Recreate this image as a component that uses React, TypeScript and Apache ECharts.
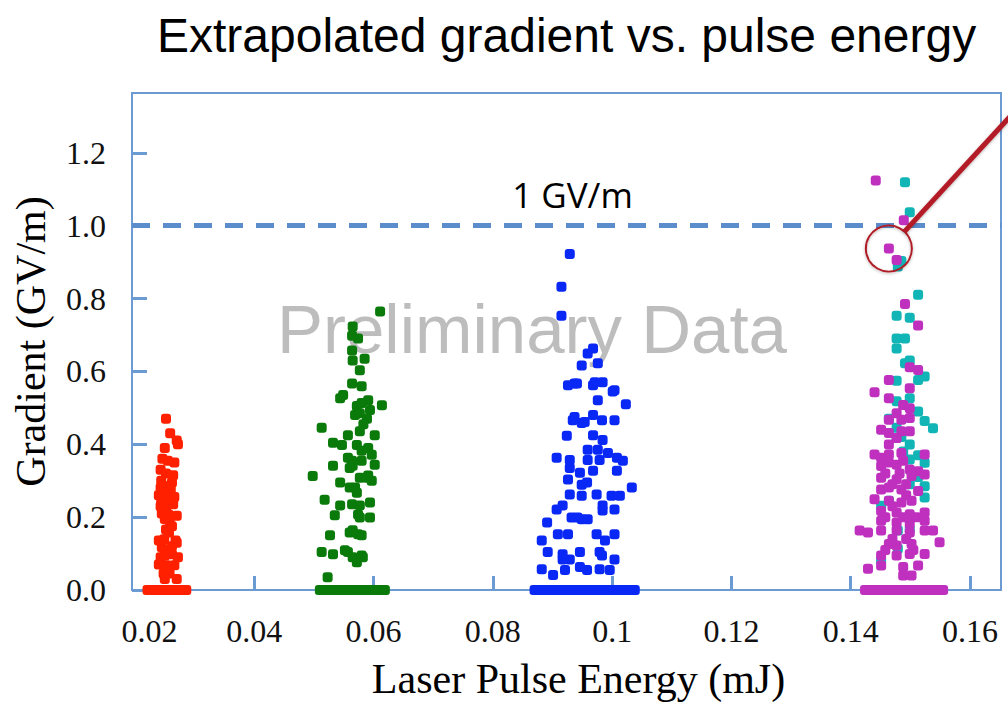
import React, { useEffect, useRef } from "react";
import * as echarts from "echarts";

// Gradient measurements (GV/m) at each laser pulse energy setting (mJ)
const redPoints: [number, number][] = [
  [0.0221, 0], [0.0227, 0], [0.0233, 0], [0.0239, 0], [0.0245, 0], [0.0251, 0],
  [0.0257, 0], [0.0263, 0], [0.0269, 0], [0.0275, 0], [0.0281, 0], [0.0286, 0],
  [0.0252, 0.47], [0.0259, 0.43], [0.027, 0.41], [0.0272, 0.4], [0.025, 0.39],
  [0.0246, 0.36], [0.0255, 0.355], [0.0266, 0.35], [0.0243, 0.33], [0.0252, 0.32],
  [0.0264, 0.315], [0.0244, 0.3], [0.0262, 0.295], [0.0243, 0.28], [0.025, 0.285],
  [0.026, 0.275], [0.024, 0.26], [0.0248, 0.262], [0.0258, 0.25], [0.0244, 0.245],
  [0.0266, 0.255], [0.0243, 0.23], [0.0252, 0.226], [0.0264, 0.235], [0.0245, 0.21],
  [0.0256, 0.207], [0.027, 0.204], [0.025, 0.195], [0.0258, 0.19], [0.0252, 0.166],
  [0.0257, 0.158], [0.0262, 0.175], [0.024, 0.136], [0.0249, 0.139], [0.0268, 0.136],
  [0.0245, 0.117], [0.0262, 0.12], [0.0255, 0.11], [0.027, 0.13], [0.0243, 0.09],
  [0.025, 0.095], [0.0262, 0.098], [0.0272, 0.09], [0.024, 0.07], [0.0253, 0.068],
  [0.0266, 0.068], [0.0248, 0.045], [0.0258, 0.045], [0.025, 0.03], [0.027, 0.03],
];

const greenPoints: [number, number][] = [
  [0.051, 0], [0.0517, 0], [0.0524, 0], [0.0531, 0], [0.0538, 0], [0.0545, 0],
  [0.0552, 0], [0.0559, 0], [0.0566, 0], [0.0573, 0], [0.058, 0], [0.0587, 0],
  [0.0594, 0], [0.0601, 0], [0.0608, 0], [0.0615, 0], [0.0619, 0],
  [0.0611, 0.764], [0.0565, 0.723], [0.0564, 0.698], [0.0574, 0.69], [0.0564, 0.657],
  [0.0585, 0.635], [0.0565, 0.63], [0.0577, 0.603], [0.0564, 0.567], [0.058, 0.559],
  [0.0544, 0.526], [0.0549, 0.535], [0.0591, 0.521], [0.0614, 0.507], [0.0572, 0.505],
  [0.058, 0.513], [0.0569, 0.48], [0.0594, 0.494], [0.0577, 0.485], [0.0589, 0.47],
  [0.0583, 0.455], [0.0513, 0.445], [0.0532, 0.404], [0.0547, 0.398], [0.0557, 0.425],
  [0.0577, 0.436], [0.0602, 0.425], [0.0572, 0.398], [0.058, 0.382], [0.0591, 0.39],
  [0.0597, 0.371], [0.0602, 0.344], [0.058, 0.355], [0.0564, 0.355], [0.0557, 0.363],
  [0.0565, 0.341], [0.0532, 0.341], [0.056, 0.335], [0.0498, 0.313], [0.0577, 0.308],
  [0.0591, 0.314], [0.0597, 0.3], [0.0589, 0.308], [0.0544, 0.295], [0.0569, 0.281],
  [0.056, 0.281], [0.0572, 0.267], [0.0518, 0.248], [0.0544, 0.232], [0.0564, 0.235],
  [0.0577, 0.232], [0.0594, 0.24], [0.0535, 0.205], [0.0574, 0.207], [0.0577, 0.199],
  [0.0594, 0.199], [0.0565, 0.164], [0.0574, 0.153], [0.0527, 0.15], [0.056, 0.158],
  [0.058, 0.15], [0.0513, 0.104], [0.0532, 0.098], [0.0552, 0.109], [0.0557, 0.104],
  [0.0565, 0.09], [0.058, 0.095], [0.0582, 0.09], [0.0572, 0.076], [0.0523, 0.035],
];

const bluePoints: [number, number][] = [
  [0.087, 0], [0.0877, 0], [0.0884, 0], [0.0891, 0], [0.0898, 0], [0.0905, 0],
  [0.0912, 0], [0.0919, 0], [0.0926, 0], [0.0933, 0], [0.094, 0], [0.0947, 0],
  [0.0954, 0], [0.0961, 0], [0.0968, 0], [0.0975, 0], [0.0982, 0], [0.0989, 0],
  [0.0996, 0], [0.1003, 0], [0.101, 0], [0.1017, 0], [0.1024, 0], [0.1031, 0], [0.1038, 0],
  [0.0929, 0.922], [0.0915, 0.832], [0.0915, 0.753], [0.0968, 0.663], [0.0959, 0.649],
  [0.0949, 0.616], [0.0976, 0.622], [0.0926, 0.562], [0.0937, 0.567], [0.0941, 0.567],
  [0.0968, 0.562], [0.0971, 0.57], [0.0984, 0.57], [0.0976, 0.521], [0.1001, 0.545],
  [0.1004, 0.548], [0.1023, 0.51], [0.0934, 0.466], [0.0949, 0.458], [0.0968, 0.48],
  [0.0937, 0.475], [0.0954, 0.461], [0.0983, 0.466], [0.1004, 0.466], [0.0924, 0.423],
  [0.0968, 0.425], [0.0984, 0.412], [0.0959, 0.385], [0.0976, 0.385], [0.0993, 0.376],
  [0.1008, 0.363], [0.1018, 0.355], [0.0907, 0.363], [0.0929, 0.357], [0.0929, 0.335],
  [0.0959, 0.357], [0.0979, 0.357], [0.1008, 0.327], [0.0946, 0.322], [0.0968, 0.327],
  [0.0926, 0.303], [0.0949, 0.289], [0.0958, 0.295], [0.1033, 0.281], [0.0929, 0.262],
  [0.0949, 0.259], [0.0974, 0.262], [0.0999, 0.259], [0.1013, 0.259], [0.0907, 0.221],
  [0.0917, 0.232], [0.0932, 0.199], [0.0942, 0.199], [0.0949, 0.194], [0.0959, 0.194],
  [0.0984, 0.232], [0.0984, 0.218], [0.1004, 0.221], [0.0891, 0.185], [0.0909, 0.153],
  [0.0926, 0.153], [0.0974, 0.153], [0.0988, 0.136], [0.1004, 0.153], [0.0882, 0.136],
  [0.0892, 0.104], [0.0917, 0.098], [0.0946, 0.104], [0.0979, 0.104], [0.0983, 0.095],
  [0.0917, 0.084], [0.0929, 0.084], [0.1004, 0.084], [0.0882, 0.057], [0.0901, 0.041],
  [0.0921, 0.055], [0.0946, 0.063], [0.0958, 0.055], [0.0979, 0.057], [0.0996, 0.055],
];

const cyanPoints: [number, number][] = [
  [0.1491, 1.119], [0.1499, 1.037], [0.1485, 0.903], [0.1479, 0.888], [0.1513, 0.81],
  [0.1477, 0.753], [0.1499, 0.747], [0.1477, 0.69], [0.1491, 0.69], [0.1477, 0.663],
  [0.1491, 0.622], [0.1499, 0.63], [0.1513, 0.576], [0.1524, 0.586], [0.1477, 0.574],
  [0.1477, 0.518], [0.1499, 0.526], [0.1513, 0.49], [0.1524, 0.464], [0.1538, 0.444],
  [0.1477, 0.445], [0.1477, 0.417], [0.1499, 0.399], [0.1485, 0.42], [0.1499, 0.358],
  [0.1524, 0.349], [0.1513, 0.37], [0.1513, 0.31], [0.1488, 0.38], [0.1464, 0.47],
  [0.1499, 0.29], [0.1524, 0.285], [0.1464, 0.245], [0.1524, 0.254], [0.1451, 0.231],
  [0.1499, 0.166], [0.1479, 0.163], [0.1479, 0.113], [0.1451, 0.081],
];

const magentaPoints: [number, number][] = [
  [0.1424, 0], [0.1431, 0], [0.1438, 0], [0.1445, 0], [0.1452, 0], [0.1459, 0],
  [0.1466, 0], [0.1473, 0], [0.148, 0], [0.1487, 0], [0.1494, 0], [0.1501, 0],
  [0.1508, 0], [0.1515, 0], [0.1522, 0], [0.1529, 0], [0.1536, 0], [0.1543, 0],
  [0.155, 0], [0.1555, 0],
  [0.1442, 1.124], [0.1489, 1.015], [0.1464, 0.937], [0.1477, 0.906], [0.1491, 0.785],
  [0.1513, 0.726], [0.1499, 0.611], [0.1513, 0.604], [0.1464, 0.576], [0.1499, 0.554],
  [0.144, 0.543], [0.1464, 0.526], [0.1488, 0.508], [0.1499, 0.499], [0.1477, 0.485],
  [0.1464, 0.467], [0.1485, 0.467], [0.1499, 0.472], [0.1451, 0.44], [0.1464, 0.431],
  [0.1485, 0.436], [0.1499, 0.436], [0.1477, 0.417], [0.1464, 0.399], [0.144, 0.372],
  [0.1451, 0.363], [0.1464, 0.372], [0.1485, 0.376], [0.1524, 0.372], [0.1464, 0.35],
  [0.1488, 0.355], [0.1451, 0.34], [0.1477, 0.344], [0.1499, 0.331], [0.1513, 0.326],
  [0.1458, 0.32], [0.1482, 0.32], [0.1451, 0.308], [0.1477, 0.304], [0.1502, 0.313],
  [0.1524, 0.317], [0.147, 0.29], [0.1493, 0.29], [0.1451, 0.276], [0.1464, 0.281],
  [0.1485, 0.276], [0.1513, 0.272], [0.1493, 0.26], [0.144, 0.249], [0.1464, 0.245],
  [0.1485, 0.24], [0.1502, 0.245], [0.147, 0.23], [0.1451, 0.217], [0.1477, 0.213],
  [0.1499, 0.208], [0.1524, 0.213], [0.1458, 0.2], [0.1488, 0.2], [0.151, 0.2],
  [0.1451, 0.19], [0.1477, 0.185], [0.1499, 0.181], [0.1524, 0.19], [0.1415, 0.163],
  [0.1429, 0.158], [0.1451, 0.163], [0.1477, 0.163], [0.1499, 0.158], [0.1524, 0.163],
  [0.1538, 0.163], [0.147, 0.14], [0.1493, 0.14], [0.1549, 0.131], [0.1464, 0.126],
  [0.1477, 0.122], [0.1502, 0.126], [0.1458, 0.11], [0.1505, 0.11], [0.1451, 0.095],
  [0.1477, 0.095], [0.1499, 0.099], [0.1524, 0.099], [0.1429, 0.058], [0.1451, 0.067],
  [0.1488, 0.063], [0.1513, 0.067], [0.1488, 0.04], [0.1502, 0.04],
];

// Axis ticks and labels
const xTickValues = [0.02, 0.04, 0.06, 0.08, 0.1, 0.12, 0.14, 0.16];
const xTickLabels = ["0.02", "0.04", "0.06", "0.08", "0.1", "0.12", "0.14", "0.16"];
const yTickValues = [0, 0.2, 0.4, 0.6, 0.8, 1.0, 1.2];
const yTickLabels = ["0.0", "0.2", "0.4", "0.6", "0.8", "1.0", "1.2"];

// Reference gradient and the highlighted shot
const thresholdGradient = 1.0;
const circledPoint: [number, number] = [0.1464, 0.937];

const AXIS_BLUE = "#6b9bd2";
const SERIF = "'Liberation Serif', 'Times New Roman', serif";
const SANS = "'Liberation Sans', Arial, Helvetica, sans-serif";

// Rounded-square marker
const DOT =
  "path://M3,0 H7 A3,3 0 0 1 10,3 V7 A3,3 0 0 1 7,10 H3 A3,3 0 0 1 0,7 V3 A3,3 0 0 1 3,0 Z";

function labelFor(values: number[], labels: string[], v: number): string {
  let best = 0;
  for (let i = 1; i < values.length; i++) {
    if (Math.abs(values[i] - v) < Math.abs(values[best] - v)) best = i;
  }
  return labels[best];
}

function scatter(name: string, data: [number, number][], color: string, extra: object = {}) {
  return {
    name,
    type: "scatter",
    data,
    symbol: DOT,
    symbolSize: 10,
    itemStyle: { color, opacity: 1 },
    z: 3,
    ...extra,
  };
}

export default function App() {
  const ref = useRef<HTMLDivElement>(null);

  useEffect(() => {
    if (!ref.current) return;
    const chart = echarts.init(ref.current, null, { renderer: "svg" });

    const option: any = {
      animation: false,
      backgroundColor: "#ffffff",
      title: {
        text: "Extrapolated gradient vs. pulse energy",
        left: 152,
        top: 6,
        textStyle: { fontSize: 48, fontFamily: SANS, fontWeight: "normal", color: "#000" },
      },
      grid: {
        left: 132,
        right: 7,
        top: 93,
        bottom: 112,
        show: true,
        borderColor: AXIS_BLUE,
        borderWidth: 2,
        backgroundColor: "transparent",
      },
      xAxis: {
        type: "value",
        min: 0.0195,
        max: 0.1652,
        splitLine: { show: false },
        axisLine: { show: true, lineStyle: { color: AXIS_BLUE, width: 2 } },
        axisTick: {
          show: true,
          inside: true,
          length: 14,
          customValues: xTickValues.slice(1),
          lineStyle: { color: AXIS_BLUE, width: 3 },
        },
        axisLabel: {
          customValues: xTickValues,
          margin: 25,
          fontSize: 32,
          fontFamily: SERIF,
          color: "#111",
          formatter: (v: number) => {
            const t = labelFor(xTickValues, xTickLabels, v);
            return t === xTickLabels[0] ? `{first|${t}}` : t;
          },
          rich: {
            first: { padding: [0, 0, 0, 29], fontSize: 32, fontFamily: SERIF, color: "#111" },
          },
        },
        name: "Laser Pulse Energy (mJ)",
        nameLocation: "middle",
        nameGap: 68,
        nameTextStyle: { fontSize: 42, fontFamily: SERIF, color: "#000", padding: [0, 0, 0, 24] },
      },
      yAxis: {
        type: "value",
        min: 0,
        max: 1.364,
        splitLine: { show: false },
        axisLine: { show: true, lineStyle: { color: AXIS_BLUE, width: 2 } },
        axisTick: {
          show: true,
          inside: true,
          length: 15,
          customValues: yTickValues,
          lineStyle: { color: AXIS_BLUE, width: 3 },
        },
        axisLabel: {
          customValues: yTickValues,
          margin: 26,
          fontSize: 32,
          fontFamily: SERIF,
          color: "#111",
          formatter: (v: number) => labelFor(yTickValues, yTickLabels, v),
        },
        name: "Gradient (GV/m)",
        nameLocation: "middle",
        nameGap: 80,
        nameTextStyle: { fontSize: 42, fontFamily: SERIF, color: "#000" },
      },
      series: [
        scatter("0.025 mJ", redPoints, "#ff2000", {
          markLine: {
            silent: true,
            symbol: ["none", "none"],
            z: 2,
            data: [{ yAxis: thresholdGradient }],
            lineStyle: { type: [18, 13], width: 5, color: "#5b8ccb" },
            label: {
              show: true,
              position: "insideMiddleTop",
              formatter: "1 GV/m",
              distance: 14,
              fontSize: 35,
              fontFamily: "'Open Sans', sans-serif",
              color: "#000",
              offset: [6, 0],
            },
          },
        }),
        scatter("0.055 mJ", greenPoints, "#0a7a0a"),
        scatter("0.095 mJ", bluePoints, "#0a28f5"),
        scatter("0.15 mJ (a)", cyanPoints, "#12b5b5"),
        scatter("0.15 mJ (b)", magentaPoints, "#bf30bf"),
      ],
    };

    chart.setOption(option);

    // Watermark plus the callout circle and pointer drawn at the highlighted shot
    const [cx, cy] = chart.convertToPixel({ xAxisIndex: 0, yAxisIndex: 0 }, circledPoint) as number[];
    const r = 23;
    const ang = Math.atan2(-110, 101);
    const x1 = cx + r * Math.cos(ang);
    const y1 = cy + r * Math.sin(ang);
    const x2 = cx + 240 * Math.cos(ang);
    const y2 = cy + 240 * Math.sin(ang);

    chart.setOption({
      graphic: [
        {
          type: "text",
          z: 0,
          silent: true,
          x: 532,
          y: 329,
          style: {
            text: "Preliminary Data",
            font: `69px ${SANS}`,
            fill: "#bdbdbd",
            textAlign: "center",
            textVerticalAlign: "middle",
          },
        },
        {
          type: "circle",
          z: 100,
          silent: true,
          shape: { cx, cy, r },
          style: {
            fill: "none",
            stroke: "#b01c26",
            lineWidth: 2,
            shadowBlur: 3,
            shadowColor: "rgba(0,0,0,0.3)",
            shadowOffsetY: 1,
          },
        },
        {
          type: "line",
          z: 100,
          silent: true,
          shape: { x1, y1, x2, y2 },
          style: {
            stroke: "#b31b25",
            lineWidth: 5,
            shadowBlur: 3,
            shadowColor: "rgba(0,0,0,0.3)",
            shadowOffsetY: 1,
          },
        },
      ],
    });

    return () => chart.dispose();
  }, []);

  return (
    <div
      ref={ref}
      style={{ position: "fixed", left: 0, top: 0, width: 1008, height: 705, background: "#fff" }}
    />
  );
}
